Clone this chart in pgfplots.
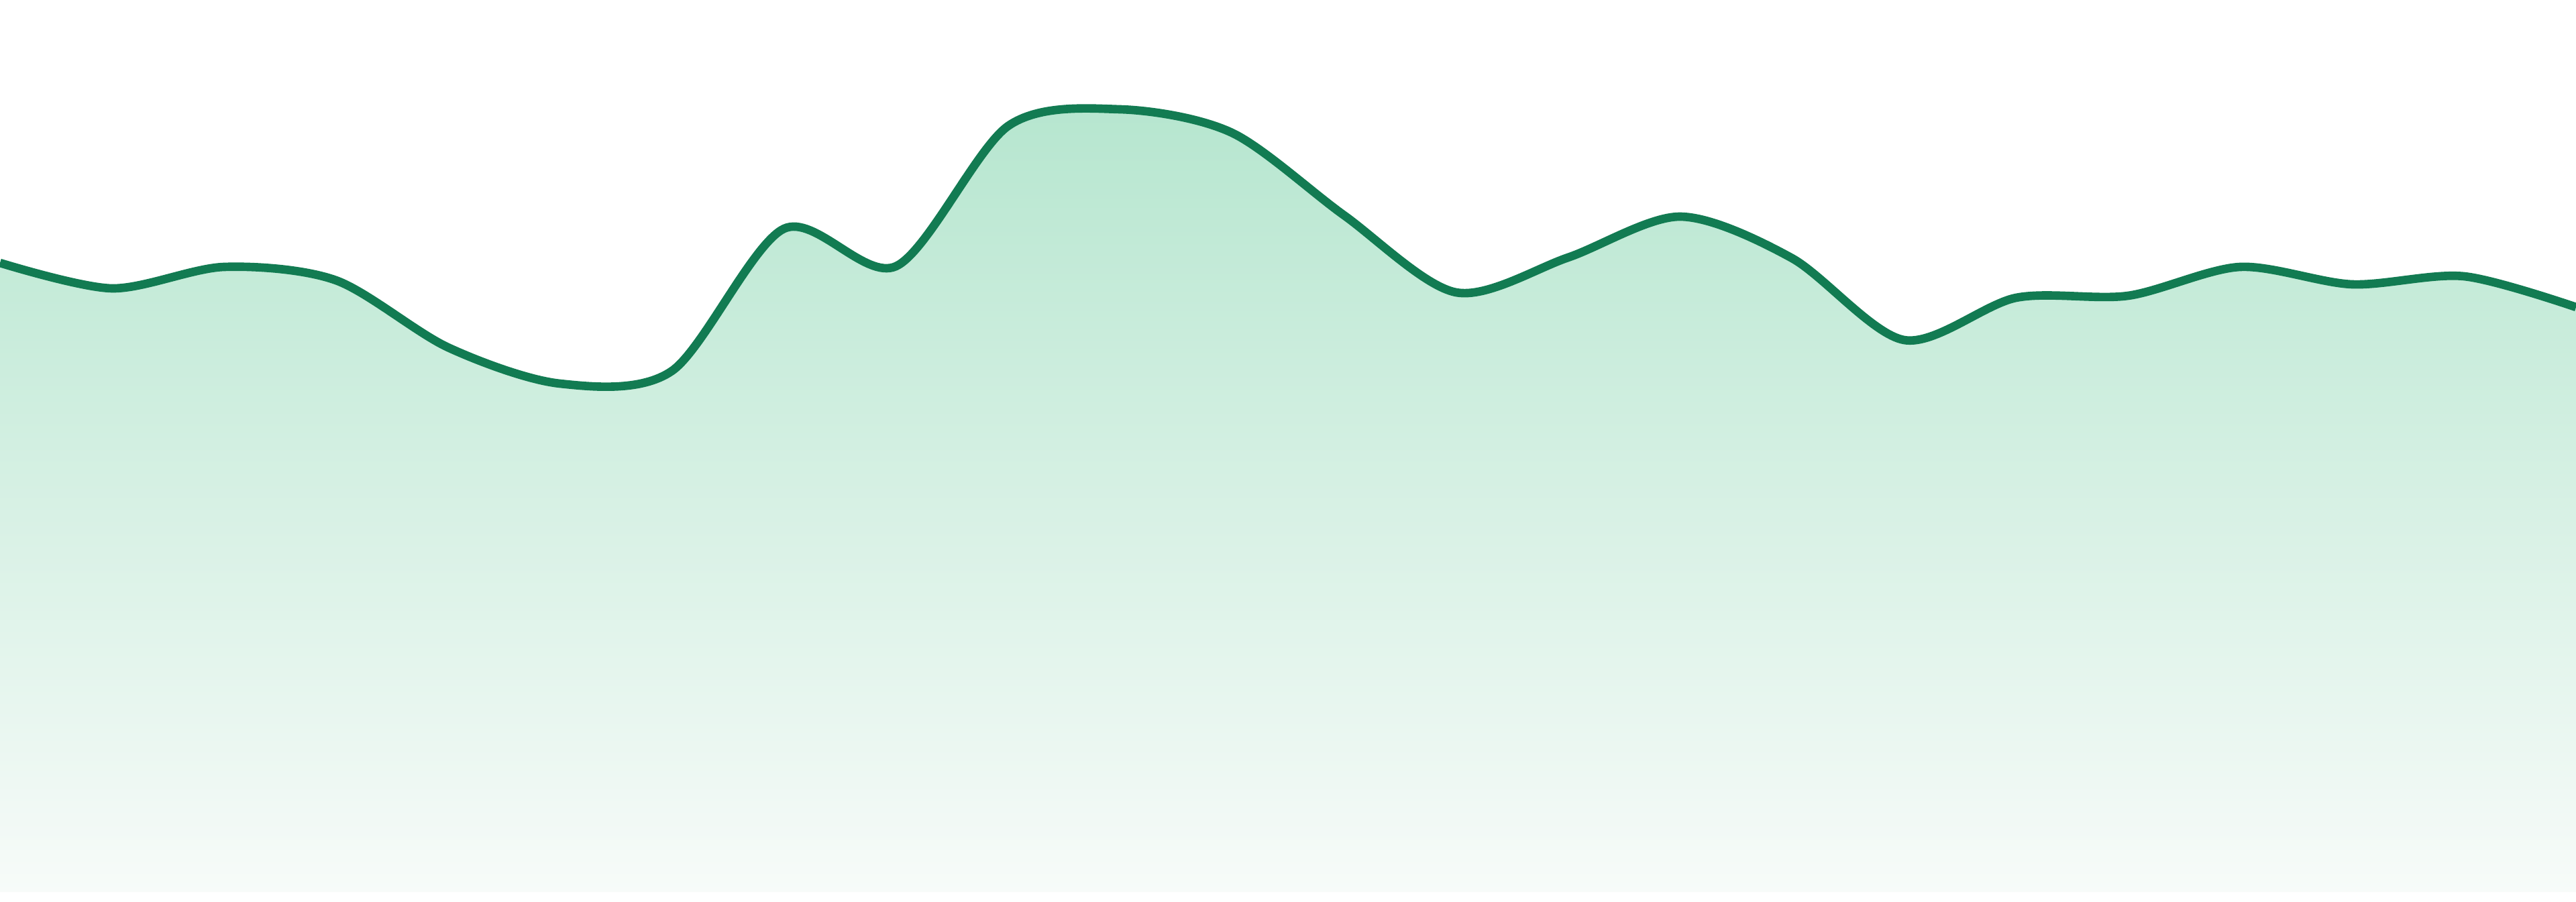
\documentclass[border=0pt]{standalone}
\usepackage{pgfplots}
\pgfplotsset{compat=1.18}

\definecolor{linegreen}{RGB}{18,123,82}
\definecolor{filltop}{RGB}{182,230,207}
\definecolor{fillbot}{RGB}{247,251,249}

% values in pixel units measured up from the baseline
\pgfplotstableread{
x y
0 938
1 900
2 932
3 912
4 812
5 758
6 777
7 989
8 933
9 1142
10 1167
11 1132
12 1009
13 894
14 946
15 1007
16 945
17 823
18 886
19 889
20 932
21 906
22 918
23 872
}\series

\begin{document}
\begin{tikzpicture}
\begin{axis}[
    scale only axis,
    width=38.4cm,
    height=13.44cm,
    xmin=0, xmax=23,
    ymin=-14, ymax=1330,
    ticks=none,
    axis line style={draw=none},
]
\addplot[draw=none, top color=filltop, bottom color=fillbot, smooth, tension=0.5]
    table[x=x, y=y] {\series} \closedcycle;
\addplot[color=linegreen, line width=3.6pt, smooth, tension=0.5]
    table[x=x, y=y] {\series};
\end{axis}
\end{tikzpicture}
\end{document}
